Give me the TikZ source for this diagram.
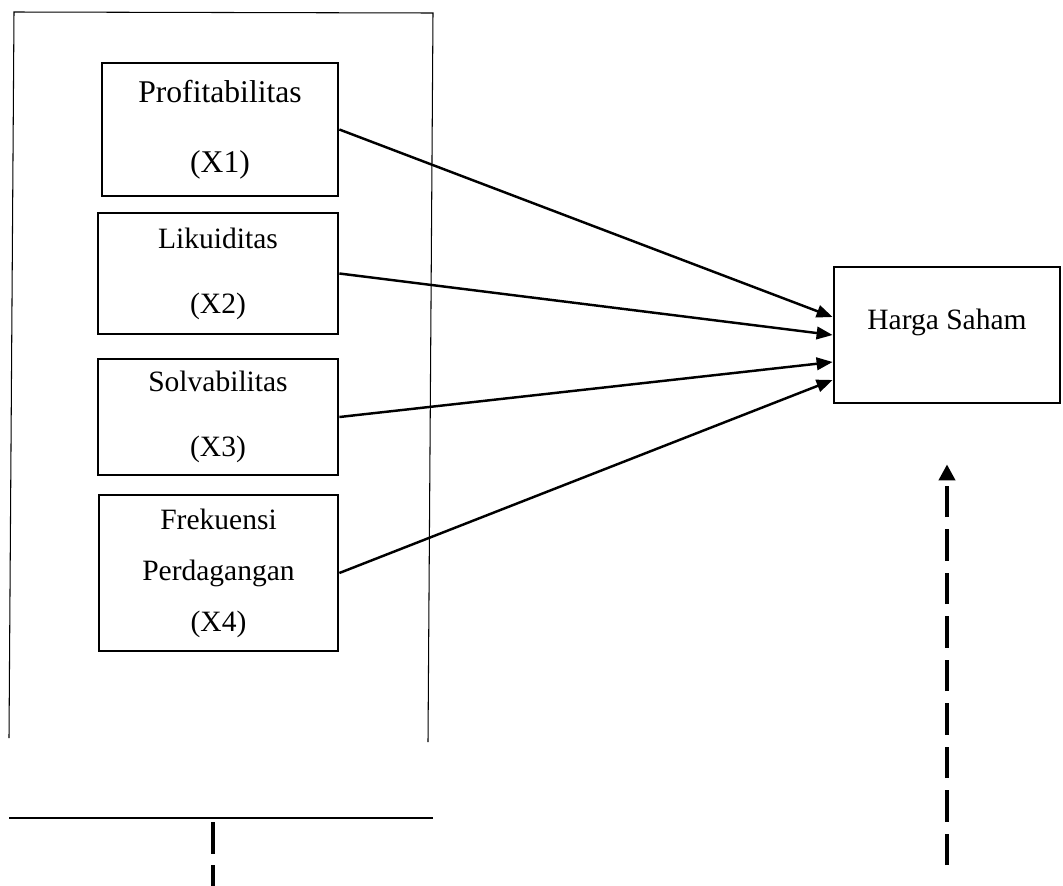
\documentclass[tikz,border=0pt]{standalone}
\usepackage{fontspec}
\setmainfont{Liberation Serif}
\usetikzlibrary{arrows.meta, calc}

\begin{document}
\begin{tikzpicture}[x=0.02cm, y=-0.02cm,
  var/.style={draw, line width=1.6pt, inner sep=0pt, align=center,
    font=\fontsize{16.8}{20}\selectfont},
  link/.style={line width=1.4pt, -{Triangle[length=0.32cm, width=0.25cm]}},
  guide/.style={line width=2.2pt, dash pattern=on 0.63cm off 0.24cm}]
  \useasboundingbox (0,0) rectangle (1063,886);
  % Frame round the independent variables
  \draw[line width=0.6pt] (9,738) -- (14,12) -- (433,13) -- (428,742);
  \draw[line width=0.6pt] (9,818) -- (433,818);
  % Independent variables
  \node[var, minimum width=4.72cm, minimum height=2.66cm, font=\fontsize{18}{21}\selectfont] (x1) at (220,129.5) {Profitabilitas\\[18.8pt](X1)};
  \node[var, minimum width=4.8cm, minimum height=2.42cm] (x2) at (218,273.5) {Likuiditas\\[17pt](X2)};
  \node[var, minimum width=4.8cm, minimum height=2.32cm] (x3) at (218,417) {Solvabilitas\\[17pt](X3)};
  \node[var, minimum width=4.78cm, minimum height=3.12cm] (x4) at (218.5,573) {Frekuensi\\[9pt]Perdagangan\\[9pt](X4)};
  % Dependent variable
  \node[var, minimum width=4.52cm, minimum height=2.72cm, text depth=0.62cm] (hs) at (947,335) {Harga Saham};
  % Paths
  \draw[link] (x1.east) -- ([yshift=0.36cm]hs.west);
  \draw[link] (x2.east) -- (hs.west);
  \draw[link] (x3.east) -- ([yshift=-0.54cm]hs.west);
  \draw[link] (x4.east) -- ([yshift=-0.9cm]hs.west);
  % Dashed guides
  \coordinate (base) at (213,822);
  \coordinate (foot) at (213,886);
  \coordinate (src) at (947,865);
  \draw[guide] (base) -- (foot);
  \draw[guide, -{Triangle[length=0.32cm, width=0.32cm]}] (src) -- ([yshift=-1.2cm]hs.south);
\end{tikzpicture}
\end{document}
